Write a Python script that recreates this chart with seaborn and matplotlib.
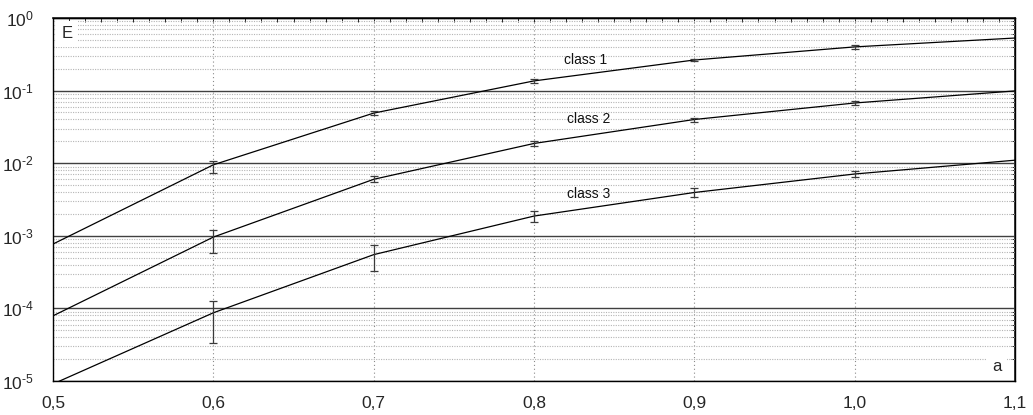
import numpy as np
import pandas as pd
import seaborn as sns
import matplotlib
matplotlib.use("Agg")
import matplotlib.pyplot as plt
from matplotlib import ticker

# Parameter values along the horizontal axis
a_vals = [0.5, 0.6, 0.7, 0.8, 0.9, 1.0, 1.1]

# E for each class
class1 = [7.7e-4, 9.5e-3, 0.049, 0.136, 0.264, 0.40, 0.53]
class2 = [7.9e-5, 9.6e-4, 6.0e-3, 0.0187, 0.040, 0.0675, 0.099]
class3 = [9.1e-6, 8.7e-5, 5.5e-4, 1.87e-3, 3.95e-3, 7.1e-3, 0.011]

# Error-bar positions and their lower / upper bounds
err_a = [0.6, 0.7, 0.8, 0.9, 1.0]
class1_lo = [7.3e-3, 0.0461, 0.127, 0.256, 0.374]
class1_hi = [0.0107, 0.0524, 0.1445, 0.272, 0.425]
class2_lo = [5.85e-4, 5.5e-3, 0.0173, 0.0375, 0.0633]
class2_hi = [1.21e-3, 6.67e-3, 0.0202, 0.0426, 0.0719]
class3_lo = [3.3e-5, 3.3e-4, 1.56e-3, 3.37e-3, 6.5e-3]
class3_hi = [1.28e-4, 7.47e-4, 2.19e-3, 4.55e-3, 7.7e-3]

class_names = ["class 1", "class 2", "class 3"]
label_pos = [(0.832, 0.264), (0.834, 0.0406), (0.834, 3.77e-3)]

sns.set_theme(style="white")
plt.rcParams["font.family"] = ["Liberation Sans", "DejaVu Sans"]
plt.rcParams["mathtext.default"] = "regular"

df = pd.DataFrame({
    "a": a_vals * 3,
    "E": class1 + class2 + class3,
    "cls": sum([[n] * len(a_vals) for n in class_names], []),
})

fig = plt.figure(figsize=(10.33, 4.15), dpi=100)
ax = fig.add_axes([53 / 1033, 1 - 381 / 415, 962 / 1033, 363 / 415])
ax.set_yscale("log")
ax.set_xlim(0.5, 1.1)
ax.set_ylim(1e-5, 1.0)

sns.lineplot(data=df, x="a", y="E", hue="cls", palette=["black"] * 3,
             legend=False, linewidth=0.9, ax=ax, zorder=4)

series = [class1, class2, class3]
lows = [class1_lo, class2_lo, class3_lo]
highs = [class1_hi, class2_hi, class3_hi]
for vals, lo, hi in zip(series, lows, highs):
    centre = np.array([vals[a_vals.index(x)] for x in err_a])
    yerr = [centre - np.array(lo), np.array(hi) - centre]
    ax.errorbar(err_a, centre, yerr=yerr, fmt="none", ecolor="#3a3a3a",
                elinewidth=0.9, capsize=3.2, capthick=0.9, zorder=5)

for name, (x, y) in zip(class_names, label_pos):
    ax.text(x, y, name, ha="center", va="center", fontsize=10, color="#111111", zorder=6)


def decade_label(v, pos):
    n = int(round(np.log10(v)))
    exp = str(n) if n >= 0 else "\u2010" + str(-n)
    return "$10^{" + exp + "}$"


# Grid: dark solid decades, dotted minor lines, dotted verticals
ax.yaxis.set_major_locator(ticker.LogLocator(base=10, numticks=10))
ax.yaxis.set_minor_locator(ticker.LogLocator(base=10, subs=np.arange(2, 10), numticks=100))
ax.yaxis.set_major_formatter(ticker.FuncFormatter(decade_label))
ax.yaxis.set_minor_formatter(ticker.NullFormatter())
ax.xaxis.set_major_locator(ticker.MultipleLocator(0.1))
ax.xaxis.set_minor_locator(ticker.MultipleLocator(0.01))
ax.xaxis.set_major_formatter(ticker.FuncFormatter(lambda v, p: f"{v:.1f}".replace(".", ",")))

ax.grid(which="major", axis="y", color="#404040", linewidth=1.0, linestyle="-")
ax.grid(which="minor", axis="y", color="#b5b5b5", linewidth=0.8, linestyle=(0, (1, 1.2)))
ax.grid(which="major", axis="x", color="#8a8a8a", linewidth=0.8, linestyle=(0, (1, 2.5)))
ax.set_axisbelow(True)

for s in ax.spines.values():
    s.set_color("black")
    s.set_linewidth(1.0)

ax.tick_params(axis="x", which="major", direction="out", length=4.5, width=0.8,
               labelsize=12.5, pad=6, color="black")
ax.tick_params(axis="x", which="minor", direction="inout", length=3.6, width=0.7, color="black")
ax.tick_params(axis="y", which="major", direction="out", length=3.8, width=0.8,
               labelsize=12.5, pad=10, color="black")
ax.tick_params(axis="y", which="minor", direction="inout", length=4.2, width=0.7, color="black")

# Inward ticks on the top and right frame edges
top = ax.secondary_xaxis("top")
top.xaxis.set_major_locator(ticker.MultipleLocator(0.1))
top.xaxis.set_minor_locator(ticker.MultipleLocator(0.01))
top.tick_params(which="both", direction="in", length=3, width=0.7, labeltop=False)
right = ax.secondary_yaxis("right")
right.set_yscale("log")
right.yaxis.set_major_locator(ticker.LogLocator(base=10, numticks=10))
right.yaxis.set_minor_locator(ticker.LogLocator(base=10, subs=np.arange(2, 10), numticks=100))
right.tick_params(which="both", direction="in", length=3, width=0.7, labelright=False)
right.yaxis.set_minor_formatter(ticker.NullFormatter())
right.yaxis.set_major_formatter(ticker.NullFormatter())

ax.set_xlabel("")
ax.set_ylabel("")
ax.text(0.0146, 0.956, "E", transform=ax.transAxes, ha="center", va="center",
        fontsize=12, zorder=6,
        bbox=dict(boxstyle="square,pad=0.35", facecolor="white", edgecolor="none"))
ax.text(0.981, 0.04, "a", transform=ax.transAxes, ha="center", va="center",
        fontsize=12, zorder=6,
        bbox=dict(boxstyle="square,pad=0.35", facecolor="white", edgecolor="none"))

fig.savefig("out.png", dpi=100)
